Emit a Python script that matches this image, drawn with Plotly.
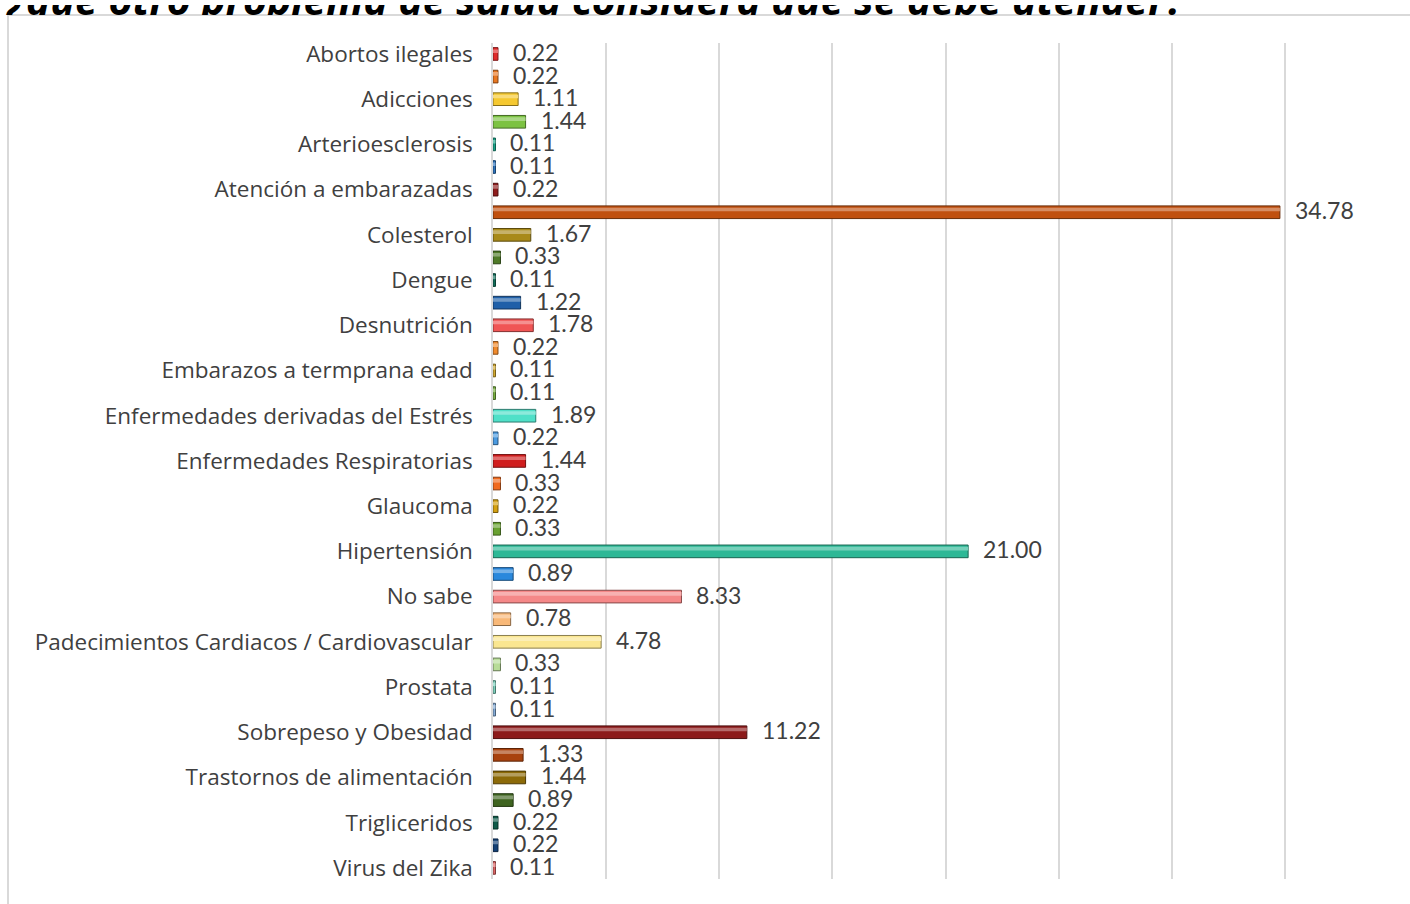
import plotly.graph_objects as go

# Responses: share (%) of each other health problem mentioned
labels = [
    "Abortos ilegales", "", "Adicciones", "", "Arterioesclerosis", "",
    "Atención a embarazadas", "", "Colesterol", "", "Dengue", "",
    "Desnutrición", "", "Embarazos a termprana edad", "",
    "Enfermedades derivadas del Estrés", "", "Enfermedades Respiratorias", "",
    "Glaucoma", "", "Hipertensión", "", "No sabe", "",
    "Padecimientos Cardiacos / Cardiovascular", "", "Prostata", "",
    "Sobrepeso y Obesidad", "", "Trastornos de alimentación", "",
    "Trigliceridos", "", "Virus del Zika",
]
values = [
    0.22, 0.22, 1.11, 1.44, 0.11, 0.11, 0.22, 34.78, 1.67, 0.33,
    0.11, 1.22, 1.78, 0.22, 0.11, 0.11, 1.89, 0.22, 1.44, 0.33,
    0.22, 0.33, 21.00, 0.89, 8.33, 0.78, 4.78, 0.33, 0.11, 0.11,
    11.22, 1.33, 1.44, 0.89, 0.22, 0.22, 0.11,
]
colors = [
    "#E02A2A", "#E8761F", "#F5C830", "#7CC242", "#1AA58A", "#2E75C0",
    "#8E1C1C", "#C0500F", "#A88A1A", "#4F7A28", "#12705C", "#1F5FA8",
    "#F05555", "#F08A2C", "#D4AA30", "#79B040", "#4FE0C8", "#4A9AE0",
    "#D01E1E", "#F06A1E", "#D4A010", "#68A030", "#2DB896", "#2A88DC",
    "#F58888", "#F8B878", "#FAE690", "#B8DC98", "#7FD4C0", "#86AEDA",
    "#8C1A1A", "#A8420E", "#8C6A08", "#3F6420", "#0E5A48", "#123F75",
    "#E06666",
]
title_text = "¿qué otro problema de salud considera que se debe atender?"


def shade(hex_color, f):
    h = hex_color.lstrip("#")
    r, g, b = (int(h[i:i + 2], 16) for i in (0, 2, 4))
    if f < 0:
        r, g, b = (int(c * (1 + f)) for c in (r, g, b))
    else:
        r, g, b = (int(c + (255 - c) * f) for c in (r, g, b))
    return f"rgb({r},{g},{b})"


W, H = 1410, 904
pos = list(range(len(values)))
grey = "#404040"

fig = go.Figure()

fig.add_trace(go.Bar(
    x=values, y=pos, orientation="h", width=0.56,
    marker=dict(color=colors,
                line=dict(color=[shade(c, -0.45) for c in colors], width=1)),
    hoverinfo="skip", showlegend=False,
))
# light upper band to give the bars a bevelled look
fig.add_trace(go.Bar(
    x=values, y=pos, orientation="h", width=0.16, offset=-0.2,
    marker=dict(color=[shade(c, 0.35) for c in colors], line=dict(width=0)),
    hoverinfo="skip", showlegend=False,
))

# value labels
for p, v in zip(pos, values):
    fig.add_annotation(
        x=v, y=p, xref="x", yref="y", text=f"{v:.2f}", showarrow=False,
        xanchor="left", yanchor="middle", xshift=13, yshift=2,
        font=dict(family="Lato", size=23, color=grey),
    )

# title line, clipped by the top edge of the chart box
fig.add_trace(go.Scatter(
    x=[0.4225], y=[10.5], mode="text", text=[title_text],
    textposition="middle center",
    textfont=dict(family="Open Sans", size=41, color="#000000",
                  weight="bold", style="italic"),
    xaxis="x2", yaxis="y2", cliponaxis=True,
    hoverinfo="skip", showlegend=False,
))

top_px, bot_px = 38, 882
fig.update_layout(
    width=W, height=H,
    margin=dict(l=0, r=0, t=0, b=0),
    paper_bgcolor="white", plot_bgcolor="white",
    barmode="overlay",
    xaxis=dict(domain=[493 / W, 1398 / W], range=[0, 40], dtick=5,
               showgrid=True, gridcolor="#D9D9D9", gridwidth=1.5,
               zeroline=False, showticklabels=False, ticks="",
               fixedrange=True),
    yaxis=dict(domain=[(H - bot_px) / H, (H - top_px) / H],
               range=[len(values) - 0.5, -0.5],
               tickvals=pos[::2], ticktext=labels[::2],
               ticks="outside", ticklen=14, tickcolor="rgba(0,0,0,0)",
               tickfont=dict(family="Open Sans", size=22.5, color=grey),
               showgrid=False, zeroline=False,
               showline=True, linecolor="#D9D9D9", linewidth=1.5,
               fixedrange=True),
    xaxis2=dict(domain=[0, 1], range=[0, 1], visible=False,
                anchor="y2", fixedrange=True),
    yaxis2=dict(domain=[(H - 10) / H, 1], range=[0, 10], visible=False,
                anchor="x2", fixedrange=True),
)

# chart box outline
fig.add_shape(type="rect", xref="paper", yref="paper",
              x0=8 / W, x1=1.05, y0=-0.05, y1=(H - 10) / H,
              line=dict(color="#D9D9D9", width=2), fillcolor="rgba(0,0,0,0)",
              layer="below")

fig.write_html("out.html")
